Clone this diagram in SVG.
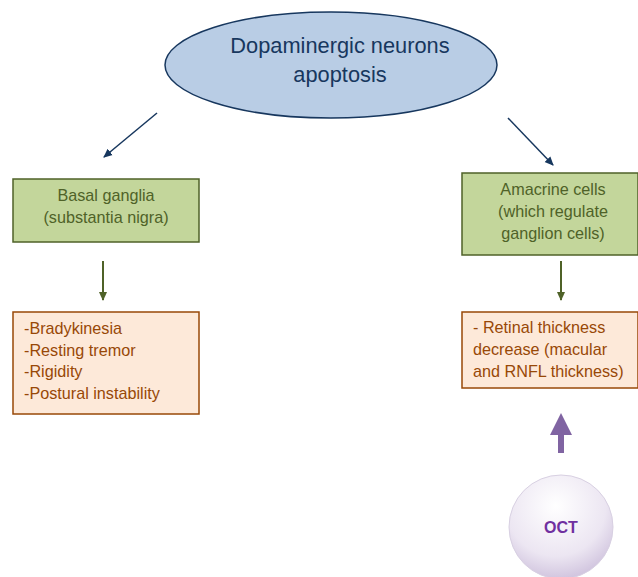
<svg xmlns="http://www.w3.org/2000/svg" width="638" height="577" viewBox="0 0 638 577">
<style>
text{font-family:"Liberation Sans",Arial,sans-serif}
.green{fill:#c3d69b;stroke:#4f6228;stroke-width:1.5}
.orange{fill:#fde9d9;stroke:#984807;stroke-width:1.5}
.gt{fill:#4f6228;font-size:16.2px;text-anchor:middle}
.ot{fill:#984807;font-size:16.2px}
.blue{stroke:#17375e;stroke-width:1.5;fill:none}
.olive{stroke:#4f6228;stroke-width:2;fill:none}
</style>
<defs>
<marker id="ab" markerWidth="10" markerHeight="10" refX="8" refY="5" orient="auto" markerUnits="userSpaceOnUse"><path d="M0,1 L9,5 L0,9 Z" fill="#17375e"/></marker>
<marker id="ag" markerWidth="10" markerHeight="10" refX="8" refY="5" orient="auto" markerUnits="userSpaceOnUse"><path d="M0,1 L9,5 L0,9 Z" fill="#4f6228"/></marker>
<radialGradient id="cg" cx="0.45" cy="0.3" r="0.8">
<stop offset="0" stop-color="#ffffff"/><stop offset="0.6" stop-color="#ece6f2"/><stop offset="1" stop-color="#c5b6d6"/>
</radialGradient>
</defs>
<g id="connectors">
<line class="blue" x1="157" y1="113" x2="104" y2="157" marker-end="url(#ab)"/>
<line class="blue" x1="508" y1="118" x2="553" y2="165" marker-end="url(#ab)"/>
<line class="olive" x1="103" y1="261" x2="103" y2="300" marker-end="url(#ag)"/>
<line class="olive" x1="561" y1="261" x2="561" y2="300" marker-end="url(#ag)"/>
<path d="M561,413 L572,435 L564,435 L564,453 L558,453 L558,435 L550,435 Z" fill="#8064a2"/>
</g>
<g id="title">
<ellipse cx="331" cy="65" rx="166" ry="53" fill="#b9cde5" stroke="#17375e" stroke-width="1.5"/>
<text x="340" y="53" font-size="21.8" fill="#17375e" text-anchor="middle">Dopaminergic neurons</text>
<text x="340" y="82" font-size="21.8" fill="#17375e" text-anchor="middle">apoptosis</text>
</g>
<g id="basal">
<rect class="green" x="13" y="179" width="186" height="63"/>
<text class="gt" x="106" y="201">Basal ganglia</text>
<text class="gt" x="106" y="223">(substantia nigra)</text>
</g>
<g id="symptoms">
<rect class="orange" x="13" y="312" width="186" height="102"/>
<text class="ot" x="24" y="334">-Bradykinesia</text>
<text class="ot" x="24" y="356">-Resting tremor</text>
<text class="ot" x="24" y="377">-Rigidity</text>
<text class="ot" x="24" y="399">-Postural instability</text>
</g>
<g id="amacrine">
<rect class="green" x="462" y="173" width="176" height="82"/>
<text class="gt" x="553" y="195">Amacrine cells</text>
<text class="gt" x="553" y="217">(which regulate</text>
<text class="gt" x="553" y="239">ganglion cells)</text>
</g>
<g id="retinal">
<rect class="orange" x="462" y="312" width="176" height="76"/>
<text class="ot" x="473" y="333">- Retinal thickness</text>
<text class="ot" x="473" y="355">decrease (macular</text>
<text class="ot" x="473" y="377">and RNFL thickness)</text>
</g>
<g id="oct">
<circle cx="561" cy="527" r="52" fill="url(#cg)" stroke="#d8d0e2" stroke-width="1"/>
<text x="561" y="533" font-size="16" font-weight="bold" fill="#7030a0" text-anchor="middle">OCT</text>
</g>
</svg>
